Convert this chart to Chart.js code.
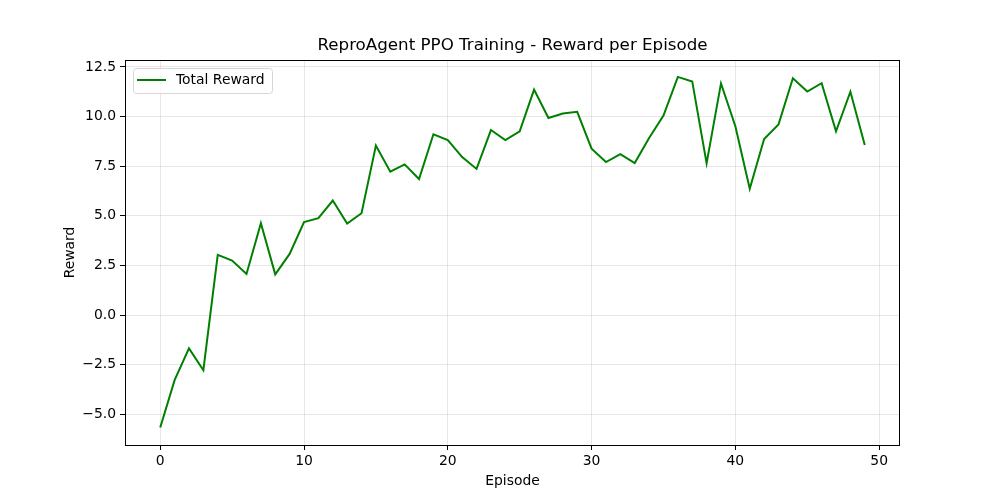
<!DOCTYPE html>
<html>
<head>
<meta charset="utf-8">
<script src="https://cdn.jsdelivr.net/npm/chart.js@4/dist/chart.umd.min.js"></script>
<style>
  html, body { margin: 0; padding: 0; background: white; }
  #wrap { width: 1000px; height: 500px; }
</style>
</head>
<body>
<div id="wrap"><canvas id="reward_chart" width="1000" height="500"></canvas></div>
<script>
var episodes = [0, 1, 2, 3, 4, 5, 6, 7, 8, 9,
    10, 11, 12, 13, 14, 15, 16, 17, 18, 19,
    20, 21, 22, 23, 24, 25, 26, 27, 28, 29,
    30, 31, 32, 33, 34, 35, 36, 37, 38, 39,
    40, 41, 42, 43, 44, 45, 46, 47, 48, 49];
var rewards = [-5.67, -3.28, -1.68, -2.78, 3.03, 2.74, 2.07, 4.63, 2.05, 3.08,
    4.68, 4.88, 5.77, 4.61, 5.13, 8.54, 7.22, 7.59, 6.85, 9.11,
    8.81, 7.96, 7.36, 9.32, 8.81, 9.26, 11.36, 9.93, 10.15, 10.24,
    8.38, 7.71, 8.11, 7.66, 8.92, 10.05, 12.0, 11.77, 7.64, 11.67,
    9.51, 6.36, 8.87, 9.6, 11.93, 11.26, 11.68, 9.26, 11.25, 8.57];
var xTicks = [0, 10, 20, 30, 40, 50];
var yTicks = [-5, -2.5, 0, 2.5, 5, 7.5, 10, 12.5];

var fontName = "'DejaVu Sans', sans-serif";
var gridColor = "rgba(176,176,176,0.3)";
var titleText = "ReproAgent PPO Training - Reward per Episode";

// titulo centrado sobre el area, marco negro y leyenda estilo matplotlib
var framePlugin = {
    id: "frame",
    afterDraw: function (chart) {
        let ctx = chart.ctx;
        let a = chart.chartArea;
        ctx.save();
        ctx.fillStyle = "black";
        ctx.font = "16.7px " + fontName;
        ctx.textAlign = "center";
        ctx.textBaseline = "middle";
        ctx.fillText(titleText, (a.left + a.right) / 2, a.top - 14);

        ctx.strokeStyle = "black";
        ctx.lineWidth = 1;
        ctx.strokeRect(a.left + 0.5, a.top + 0.5, a.right - a.left - 1, a.bottom - a.top);

        // leyenda
        let bx = a.left + 8, by = a.top + 8, bw = 139, bh = 25;
        ctx.beginPath();
        ctx.roundRect(bx + 0.5, by + 0.5, bw, bh, 3);
        ctx.fillStyle = "rgba(255,255,255,0.8)";
        ctx.fill();
        ctx.strokeStyle = "#d6d6d6";
        ctx.stroke();
        ctx.beginPath();
        ctx.moveTo(bx + 4, by + 12);
        ctx.lineTo(bx + 33, by + 12);
        ctx.strokeStyle = "green";
        ctx.lineWidth = 2;
        ctx.stroke();
        ctx.fillStyle = "black";
        ctx.font = "13.9px " + fontName;
        ctx.textAlign = "left";
        ctx.textBaseline = "middle";
        ctx.fillText("Total Reward", bx + 43, by + 12.5);
        ctx.restore();
    }
};

let ctx = document.getElementById("reward_chart").getContext("2d");
let rewardChart = new Chart(ctx, {
    type: "line",
    data: {
        labels: episodes,
        datasets: [{
            label: "Total Reward",
            data: episodes.map((e, i) => ({x: e, y: rewards[i]})),
            borderColor: "green",
            borderWidth: 2,
            pointRadius: 0,
            tension: 0,
            fill: false
        }]
    },
    options: {
        responsive: false,
        animation: false,
        devicePixelRatio: 1,
        layout: {
            padding: {left: 62, right: 100, top: 60, bottom: 10}
        },
        plugins: {
            legend: {display: false},
            tooltip: {enabled: false},
            title: {display: false}
        },
        scales: {
            x: {
                type: "linear",
                min: -2.45,
                max: 51.45,
                afterBuildTicks: function (axis) {
                    axis.ticks = xTicks.map(v => ({value: v}));
                },
                afterFit: function (axis) {
                    axis.height = 45;
                },
                ticks: {
                    color: "black",
                    font: {family: fontName, size: 13.9},
                    padding: 3,
                    maxRotation: 0,
                    callback: function (v) { return String(v); }
                },
                grid: {
                    color: gridColor,
                    lineWidth: 1,
                    tickColor: "black",
                    tickLength: 5
                },
                border: {display: false},
                title: {
                    display: true,
                    text: "Episode",
                    color: "black",
                    font: {family: fontName, size: 13.9},
                    padding: {top: 2, bottom: 0}
                }
            },
            y: {
                min: -6.55,
                max: 12.85,
                afterBuildTicks: function (axis) {
                    axis.ticks = yTicks.map(v => ({value: v}));
                },
                afterFit: function (axis) {
                    axis.width = 63;
                },
                ticks: {
                    color: "black",
                    font: {family: fontName, size: 13.9},
                    padding: 4,
                    callback: function (v) { return v.toFixed(1).replace("-", "\u2212"); }
                },
                grid: {
                    color: gridColor,
                    lineWidth: 1,
                    tickColor: "black",
                    tickLength: 5
                },
                border: {display: false},
                title: {
                    display: true,
                    text: "Reward",
                    color: "black",
                    font: {family: fontName, size: 13.9},
                    padding: {top: 0, bottom: 4}
                }
            }
        }
    },
    plugins: [framePlugin]
});
</script>
</body>
</html>
